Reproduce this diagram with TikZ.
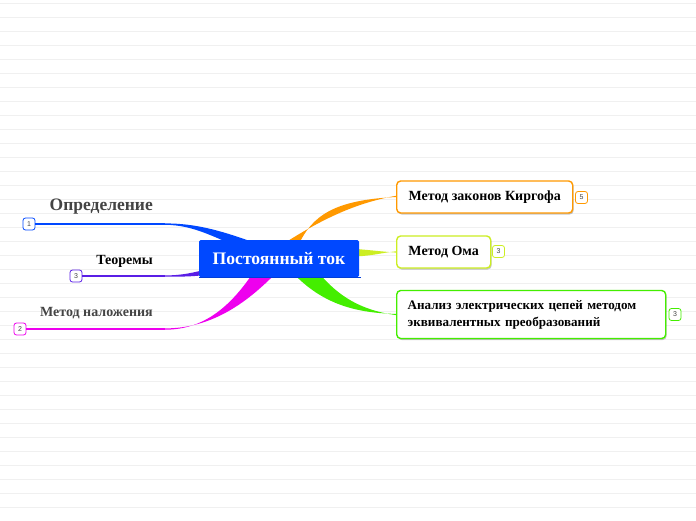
\documentclass[tikz,border=0pt]{standalone}
\usepackage{fontspec}
\setmainfont{Liberation Serif}
\newfontfamily\badgefont{Liberation Sans}
\usetikzlibrary{shadows}
\definecolor{cblue}{HTML}{0048FF}
\definecolor{cpurple}{HTML}{5A1EE6}
\definecolor{cmag}{HTML}{EE00EE}
\definecolor{corange}{HTML}{FF9900}
\definecolor{cyell}{HTML}{CCEE22}
\definecolor{cgreen}{HTML}{44EE00}
\definecolor{ctext}{HTML}{444444}
\definecolor{cgrid}{HTML}{F0F0F0}
\tikzset{
  badge/.style={draw, fill=white, rounded corners=2.5pt, minimum width=12pt, minimum height=12pt, inner sep=0pt, font=\badgefont\fontsize{7}{7}\selectfont, text=ctext, line width=0.8pt},
  rbox/.style={draw, fill=white, rounded corners=4pt, line width=1.4pt, anchor=west, align=left, inner xsep=11pt, inner ysep=0pt, text=black, font=\bfseries\fontsize{14}{16}\selectfont, drop shadow={opacity=0.22, shadow xshift=1pt, shadow yshift=-1.5pt, fill=black}},
  ltext/.style={anchor=east, inner sep=0pt, font=\bfseries\fontsize{14}{16}\selectfont},
  thin/.style={line width=1.2pt}
}
\begin{document}
\begin{tikzpicture}[x=1pt,y=-1pt]
\useasboundingbox (0,0) rectangle (696,520);
\fill[white] (0,0) rectangle (696,520);
\foreach \k in {0,...,36} \draw[cgrid, line width=0.8pt] (0,3.3+14*\k) -- (696,3.3+14*\k);

% junction coordinates
\coordinate (j1) at (165,224);
\coordinate (j2) at (165,276);
\coordinate (j3) at (165,329);

% left badges and texts
\node[badge, draw=cblue] (b1) at (29,224) {1};
\node[badge, draw=cpurple] (b2) at (76,276) {3};
\node[badge, draw=cmag] (b3) at (20,329) {2};
\node[ltext, text=ctext, font=\bfseries\fontsize{17.5}{19}\selectfont] (t1) at (153,207) {Определение};
\node[ltext, text=black] (t2) at (153,261) {Теоремы};
\node[ltext, text=ctext] (t3) at (153,313) {Метод наложения};

% thin parts
\draw[cblue, thin] (b1.east) -- (j1);
\draw[cpurple, thin] (b2.east) -- (j2);
\draw[cmag, thin] (b3.east) -- (j3);

% tapered branches
\fill[cblue] (165,223.4) .. controls (195,223.4) and (220,230) .. (258,244) -- (250,252) .. controls (215,238) and (195,225) .. (165,224.8) -- cycle;
\fill[cpurple] (165,275.4) .. controls (182,275.4) and (192,273) .. (212,268) -- (212,274) .. controls (192,277) and (182,276.6) .. (165,276.6) -- cycle;
\fill[cmag] (165,328.4) .. controls (210,328.4) and (245,305) .. (277,272) -- (255,270) .. controls (232,305) and (205,329.7) .. (165,329.7) -- cycle;

% right boxes
\node[rbox, draw=corange, minimum width=176pt, minimum height=32pt] (k) at (396,197) {Метод законов Киргофа};
\node[rbox, draw=cyell, minimum width=94pt, minimum height=32pt] (o) at (396,252) {Метод Ома};
\node[rbox, draw=cgreen, minimum height=48pt, text width=247pt, font=\bfseries\fontsize{13.1}{17}\selectfont] (a) at (396,314.5) {Анализ электрических цепей методом\\эквивалентных преобразований};

% right branches
\fill[corange] (298,246) .. controls (312,215) and (335,200) .. (k.west) -- ([yshift=1.2pt]k.west) .. controls (355,203) and (320,220) .. (280,246) -- cycle;
\fill[cyell] (350,248.5) .. controls (370,250) and (380,251.4) .. ([yshift=-0.6pt]o.west) -- ([yshift=0.7pt]o.west) .. controls (380,253) and (370,256.5) .. (350,256.5) -- cycle;
\fill[cgreen] (292,272) .. controls (320,302) and (352,313) .. ([yshift=0.6pt]a.west) -- ([yshift=-0.6pt]a.west) .. controls (360,310) and (338,296) .. (318,272) -- cycle;

% right badges
\node[badge, draw=corange] (b4) at (581.5,197.5) {5};
\node[badge, draw=cyell] (b5) at (498.5,251.5) {3};
\node[badge, draw=cgreen] (b6) at (675,314.5) {3};

% center
\node[fill=cblue, rounded corners=1.5pt, minimum width=160pt, minimum height=37pt, inner sep=0pt, text=white, font=\bfseries\fontsize{17.6}{20}\selectfont] (c) at (279,258.5) {Постоянный ток};
\draw[cblue!85!black, line width=1.5pt] ([yshift=-0.5pt]c.south west) -- ([xshift=1.5pt,yshift=-0.5pt]c.south east);
\end{tikzpicture}
\end{document}
